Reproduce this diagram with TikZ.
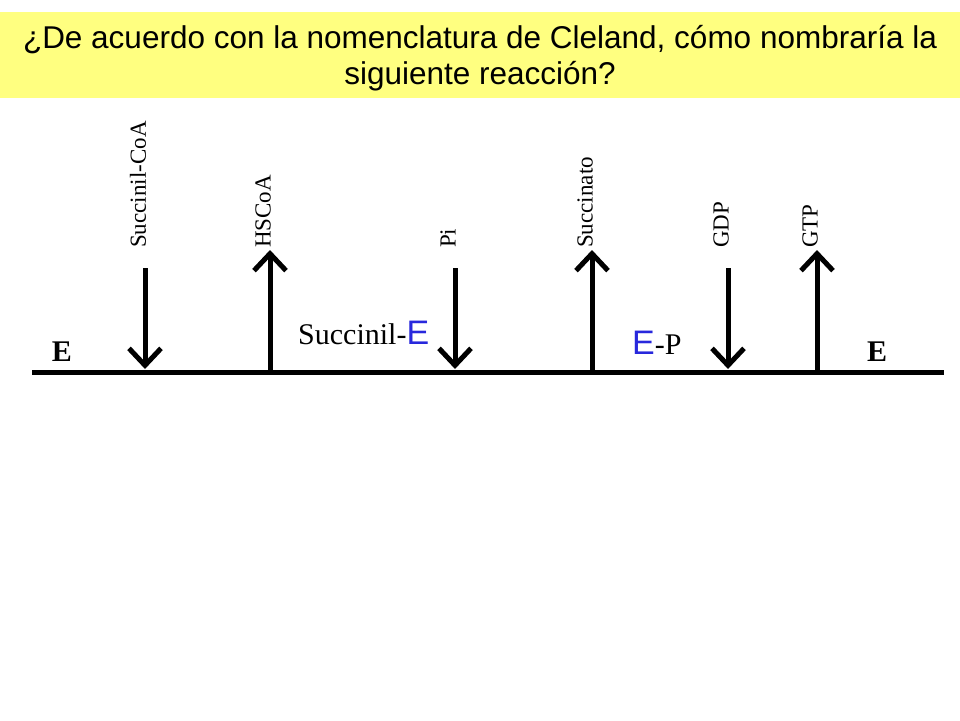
\documentclass[tikz,border=0pt]{standalone}
\usepackage{fontspec}
\setmainfont{Liberation Serif}
\newfontfamily\arial{Liberation Sans}
\usetikzlibrary{arrows.meta}
\definecolor{ban}{RGB}{255,255,128}
\definecolor{eblue}{RGB}{40,40,220}
\begin{document}
\begin{tikzpicture}[x=1pt,y=-1pt,
  arr/.style={line width=5pt,-{Straight Barb[length=17pt,width=32pt,line width=5pt]}},
  lab/.style={rotate=90,anchor=west,inner sep=0pt,font=\fontsize{23}{23}\selectfont}]
\useasboundingbox (0,0) rectangle (960,720);
\fill[ban] (0,12) rectangle (960,98);
\node[font=\arial\fontsize{31.5}{36}\selectfont,align=center,inner sep=0pt] (title) at (480,58)
 {¿De acuerdo con la nomenclatura de Cleland, cómo nombraría la\\siguiente reacción?};
\coordinate (l) at (32,372); \coordinate (r) at (944,372);
\draw[line width=5pt] (l) -- (r);
\foreach \n/\x/\d/\t in {a/145/1/Succinil-CoA,b/270/0/HSCoA,c/455/1/Pi,d/592/0/Succinato,e/728/1/GDP,f/817/0/GTP}{
  \ifnum\d=1 \coordinate (\n t) at (\x,268); \coordinate (\n b) at (\x,369);
    \draw[arr] (\n t) -- (\n b);
  \else \coordinate (\n t) at (\x,250); \coordinate (\n b) at (\x,372);
    \draw[arr] (\n b) -- (\n t); \fi
  \node[lab] (\n l) at (\x-7,248) {\t};
}
\node[font=\bfseries\fontsize{30}{30}\selectfont] (e1) at (62,352) {E};
\node[font=\bfseries\fontsize{30}{30}\selectfont] (e2) at (877,352) {E};
\node[font=\fontsize{30}{30}\selectfont,anchor=west,inner sep=0pt] (se) at (298,333) {Succinil-{\arial\fontsize{34}{34}\selectfont\color{eblue}E}};
\node[font=\fontsize{30}{30}\selectfont,anchor=west,inner sep=0pt] (ep) at (632,343) {{\arial\fontsize{34}{34}\selectfont\color{eblue}E}-P};
\end{tikzpicture}
\end{document}
